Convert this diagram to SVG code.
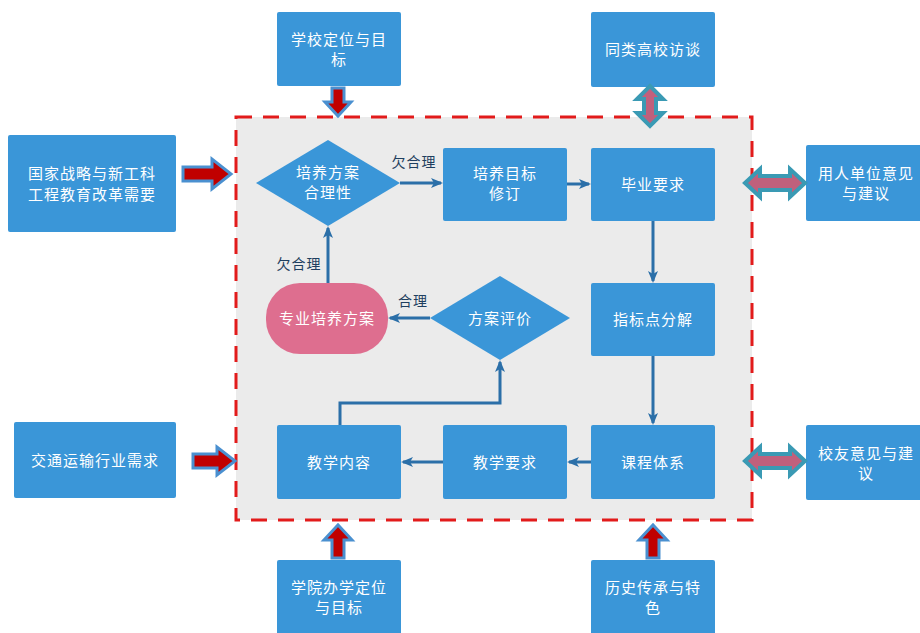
<svg xmlns="http://www.w3.org/2000/svg" width="920" height="633" viewBox="0 0 920 633">
<defs>
<style>
.box{fill:#3a96d8;}
.t{font-family:"Noto Sans CJK SC","Noto Sans",sans-serif;font-size:15px;fill:#ffffff;text-anchor:middle;letter-spacing:1px;}
.lbl{font-family:"Noto Sans CJK SC","Noto Sans",sans-serif;font-size:14px;fill:#1f3f60;text-anchor:middle;letter-spacing:1px;}
.ln{stroke:#2b6fa8;stroke-width:3;fill:none;}
.blk{fill:#c00000;stroke:#4a90d0;stroke-width:3;stroke-linejoin:miter;}
.dbl{fill:#c0607c;stroke:#3a9ab4;stroke-width:4;stroke-linejoin:miter;}
</style>
<marker id="ah" markerWidth="8" markerHeight="8" refX="6" refY="4" orient="auto" markerUnits="userSpaceOnUse" viewBox="0 0 8 8">
<path d="M0,0 L8,4 L0,8 L2,4 Z" fill="#2b6fa8"/>
</marker>
<marker id="ah2" markerWidth="12" markerHeight="12" refX="10" refY="6" orient="auto" markerUnits="userSpaceOnUse" viewBox="0 0 12 12">
<path d="M0,1 L12,6 L0,11 L3,6 Z" fill="#2b6fa8"/>
</marker>
</defs>
<rect width="920" height="633" fill="#ffffff"/>
<rect x="236" y="117" width="516" height="403" fill="#ebebeb" stroke="#e21b1b" stroke-width="3" stroke-dasharray="16,11"/>

<g id="n-xuexiao"><rect class="box" x="277" y="12" width="124" height="74" rx="2"/><text class="t" x="339" y="45">学校定位与目</text><text class="t" x="339" y="65">标</text></g>
<g id="n-tonglei"><rect class="box" x="591" y="12" width="124" height="75" rx="2"/><text class="t" x="653" y="55">同类高校访谈</text></g>
<g id="n-guojia"><rect class="box" x="8" y="135" width="168" height="97" rx="2"/><text class="t" x="92" y="179">国家战略与新工科</text><text class="t" x="92" y="200">工程教育改革需要</text></g>
<g id="n-yongren"><rect class="box" x="806" y="145" width="120" height="76" rx="2"/><text class="t" x="866" y="179">用人单位意见</text><text class="t" x="866" y="199">与建议</text></g>
<g id="n-jiaotong"><rect class="box" x="14" y="422" width="162" height="76" rx="2"/><text class="t" x="95" y="466">交通运输行业需求</text></g>
<g id="n-xiaoyou"><rect class="box" x="806" y="425" width="120" height="75" rx="2"/><text class="t" x="866" y="459">校友意见与建</text><text class="t" x="866" y="479">议</text></g>
<g id="n-xueyuan"><rect class="box" x="277" y="560" width="124" height="80" rx="2"/><text class="t" x="339" y="593">学院办学定位</text><text class="t" x="339" y="613">与目标</text></g>
<g id="n-lishi"><rect class="box" x="591" y="560" width="124" height="80" rx="2"/><text class="t" x="653" y="593">历史传承与特</text><text class="t" x="653" y="613">色</text></g>

<g id="n-heli"><polygon class="box" points="328,140 400,183 328,226 256,183"/><text class="t" x="328" y="178">培养方案</text><text class="t" x="328" y="198">合理性</text></g>
<g id="n-mubiao"><rect class="box" x="443" y="148" width="124" height="73" rx="2"/><text class="t" x="505" y="179">培养目标</text><text class="t" x="505" y="199">修订</text></g>
<g id="n-biye"><rect class="box" x="591" y="148" width="124" height="73" rx="2"/><text class="t" x="653" y="190">毕业要求</text></g>
<g id="n-zhibiao"><rect class="box" x="591" y="283" width="124" height="73" rx="2"/><text class="t" x="653" y="325">指标点分解</text></g>
<g id="n-kecheng"><rect class="box" x="591" y="425" width="124" height="74" rx="2"/><text class="t" x="653" y="468">课程体系</text></g>
<g id="n-yaoqiu"><rect class="box" x="443" y="425" width="124" height="74" rx="2"/><text class="t" x="505" y="468">教学要求</text></g>
<g id="n-neirong"><rect class="box" x="277" y="425" width="124" height="74" rx="2"/><text class="t" x="339" y="468">教学内容</text></g>
<g id="n-pingjia"><polygon class="box" points="500,276 570,318 500,360 430,318"/><text class="t" x="500" y="324">方案评价</text></g>
<g id="n-fangan"><rect x="266" y="283" width="122" height="71" rx="34" fill="#de6e8f"/><text class="t" x="327" y="324">专业培养方案</text></g>

<g id="connectors">
<line class="ln" x1="400" y1="183" x2="441" y2="183" marker-end="url(#ah2)"/>
<line class="ln" x1="567" y1="184" x2="589" y2="184" marker-end="url(#ah2)"/>
<line class="ln" x1="653" y1="221" x2="653" y2="281" marker-end="url(#ah2)"/>
<line class="ln" x1="653" y1="356" x2="653" y2="423" marker-end="url(#ah2)"/>
<line class="ln" x1="591" y1="462" x2="569" y2="462" marker-end="url(#ah2)"/>
<line class="ln" x1="443" y1="462" x2="403" y2="462" marker-end="url(#ah2)"/>
<polyline class="ln" points="340,425 340,403 500,403 500,362" marker-end="url(#ah2)"/>
<line class="ln" x1="430" y1="318" x2="390" y2="318" marker-end="url(#ah2)"/>
<line class="ln" x1="328" y1="283" x2="328" y2="228" marker-end="url(#ah2)"/>
<text class="lbl" x="414" y="167">欠合理</text>
<text class="lbl" x="413" y="306">合理</text>
<text class="lbl" x="299" y="269">欠合理</text>

<path class="blk" d="M332,88 H344 V102 H351 L338,116 L325,102 H332 Z"/>
<path class="blk" d="M183,167 H212 V159 L231,174 L212,189 V181 H183 Z"/>
<path class="blk" d="M193,454 H217 V447 L235,461 L217,475 V468 H193 Z"/>
<path class="blk" d="M332,558 H344 V540 H352 L338,525 L324,540 H332 Z"/>
<path class="blk" d="M647,558 H659 V540 H667 L653,525 L639,540 H647 Z"/>

<path class="dbl" d="M650,86 L663,99 H656 V113 H663 L650,126 L637,113 H644 V99 H637 Z"/>
<path class="dbl" d="M745,183 L760,169 V176 H790 V169 L805,183 L790,197 V190 H760 V197 Z"/>
<path class="dbl" d="M745,461 L760,447 V454 H790 V447 L805,461 L790,475 V468 H760 V475 Z"/>
</g>
</svg>
